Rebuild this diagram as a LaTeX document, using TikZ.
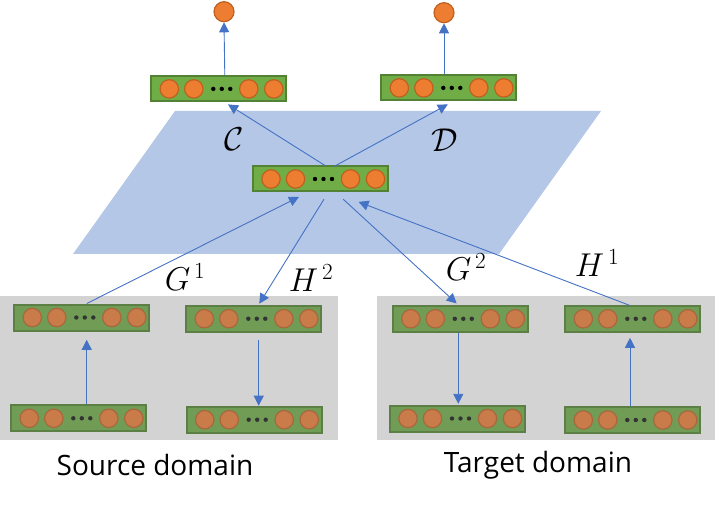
\RequirePackage{fix-cm}
\documentclass[tikz,border=0pt]{standalone}
\usepackage{fontspec}
\newfontfamily\labelfont{Open Sans}
\usetikzlibrary{arrows.meta,calc}
\definecolor{plane}{HTML}{B4C7E7}
\definecolor{graybg}{HTML}{D3D3D3}
\definecolor{edgec}{HTML}{4472C4}
\definecolor{boxg}{HTML}{70AD47}
\definecolor{boxgb}{HTML}{548235}
\definecolor{orng}{HTML}{ED7D31}
\definecolor{orngb}{HTML}{C0601E}
\definecolor{boxgl}{HTML}{709C55}
\definecolor{boxgbl}{HTML}{5B7F44}
\definecolor{orngl}{HTML}{C97B4A}
\definecolor{orngbl}{HTML}{A9673C}
\tikzset{
  boxA/.style={draw=boxgb, fill=boxg, line width=2pt, minimum width=135pt, minimum height=25pt, inner sep=0pt},
  boxB/.style={draw=boxgbl, fill=boxgl, line width=2pt, minimum width=135pt, minimum height=26pt, inner sep=0pt},
  unitA/.style={draw=orngb, fill=orng, line width=1.2pt},
  unitB/.style={draw=orngbl, fill=orngl, line width=1.2pt},
  dotA/.style={fill=black},
  dotB/.style={fill=black!80},
  outc/.style={circle, draw=orngb, fill=orng, line width=1.2pt, minimum size=20pt, inner sep=0pt},
  arr/.style={draw=edgec, line width=0.9pt, -{Triangle[length=10pt,width=10pt]}},
  mlabel/.style={font=\fontsize{33}{38}\selectfont, inner sep=0pt},
  dlabel/.style={font=\labelfont\fontsize{28}{34}\selectfont, inner sep=0pt}
}
\newcommand\layer[3]{%
  \node[box#3] (#1) at (#2) {};
  \foreach \dx in {19,43.5,98.5,123.5}
    \draw[unit#3] ($(#1.west)+(\dx,0)$) circle[radius=9.2pt];
  \foreach \dx in {63,71.5,80}
    \fill[dot#3] ($(#1.west)+(\dx,0)$) circle[radius=2.2pt];
}
\begin{document}
\begin{tikzpicture}[x=1pt,y=-1pt]
\useasboundingbox (0,0) rectangle (715,505);
% backgrounds
\fill[graybg] (0,296) rectangle (338,440);
\fill[graybg] (377,296) rectangle (715,440);
\fill[plane] (175,111) -- (601,111) -- (499,254) -- (73,254) -- cycle;
% output units
\node[outc] (o1) at (224,11.7) {};
\node[outc] (o2) at (444,12.7) {};
% layers
\layer{tl}{218.8,88.9}{A}
\layer{tr}{448.8,87.9}{A}
\layer{mid}{320.5,179}{A}
\layer{sTL}{81.8,317.5}{B}
\layer{sTR}{253.8,318.7}{B}
\layer{sBL}{78.8,418.3}{B}
\layer{sBR}{254.2,419.7}{B}
\layer{tTL}{460.3,318.8}{B}
\layer{tTR}{632.8,318.8}{B}
\layer{tBL}{457.5,418.5}{B}
\layer{tBR}{632.8,420}{B}
% connectors
\draw[arr] ($(tl.north)+(6,0)$) -- (o1.south);
\draw[arr] ($(tr.north)+(-4.8,0)$) -- (o2.south);
\draw[arr] ($(mid.north)+(4.5,0)$) -- ($(tl.south)+(9.2,2)$);
\draw[arr] ($(mid.north)+(13.5,1)$) -- ($(tr.south)+(-1,3)$);
\draw[arr] ($(sTL.north)+(5,0)$) -- ($(mid.south)+(-21.5,4.4)$);
\draw[arr] ($(mid.south)+(3.5,6.7)$) -- ($(sTR.north)+(5.5,-1)$);
\draw[arr] ($(mid.south)+(22.7,6.7)$) -- ($(tTL.north)+(-3.6,-1.3)$);
\draw[arr] ($(tTR.north)+(-2.8,0.7)$) -- ($(mid.south)+(38,9.4)$);
\draw[arr] ($(sBL.north)+(7.9,0)$) -- ($(sTL.south)+(4.9,8.3)$);
\draw[arr] ($(sTR.south)+(4.9,7.7)$) -- ($(sBR.north)+(4.5,0)$);
\draw[arr] ($(tTL.south)+(-2,0)$) -- ($(tBL.north)+(0.8,-0.7)$);
\draw[arr] ($(tBR.north)+(-2.8,0)$) -- ($(tTR.south)+(-2.8,5)$);
% labels
\node[mlabel] (lc) at (234,139) {$\mathcal{C}$};
\node[mlabel] (ld) at (445,140) {$\mathcal{D}$};
\node[mlabel] (lg1) at (185,277) {$G^{\,1}$};
\node[mlabel] (lh2) at (311,278) {$H^{\,2}$};
\node[mlabel] (lg2) at (466,267) {$G^{\,2}$};
\node[mlabel] (lh1) at (597,263) {$H^{\,1}$};
\node[dlabel] (src) at (155,465) {Source domain};
\node[dlabel] (tgt) at (538,465) {Target domain};
\end{tikzpicture}
\end{document}
